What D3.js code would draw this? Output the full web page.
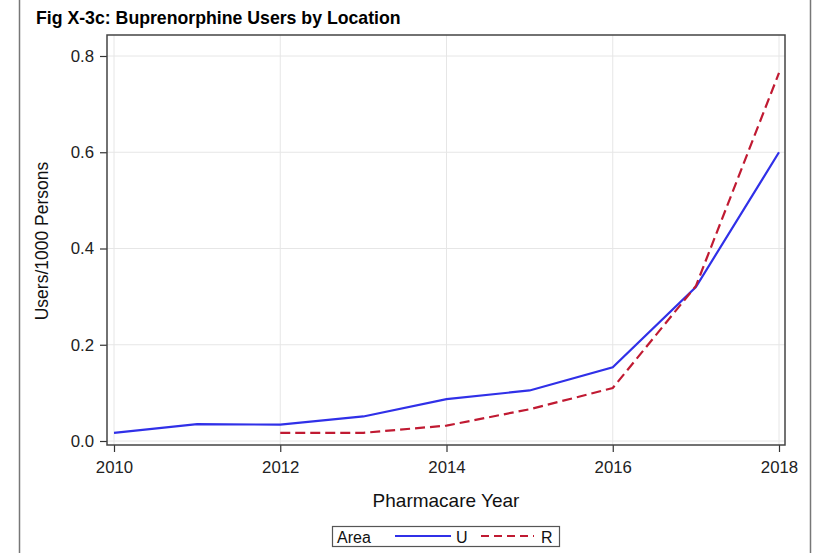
<!DOCTYPE html>
<html><head><meta charset="utf-8">
<script src="https://cdn.jsdelivr.net/npm/d3@7"></script>
<style>body{margin:0;background:#fff}svg{display:block;font-family:Arial,"Liberation Sans",sans-serif}</style>
</head><body>
<svg id="c" width="816" height="553"></svg>
<script>
const years = [2010,2011,2012,2013,2014,2015,2016,2017,2018];
const urbanValues = [0.017,0.035,0.034,0.051,0.087,0.105,0.153,0.320,0.600];
const ruralYears = [2012,2013,2014,2015,2016,2017,2018];
const ruralValues = [0.017,0.017,0.032,0.066,0.110,0.322,0.765];
const xTicks = [2010,2012,2014,2016,2018];
const yTicks = [0.0,0.2,0.4,0.6,0.8];
const seriesNames = ["U","R"];

const svg = d3.select("#c");
const frame = {l:107, t:35, r:785, b:445};
const x = d3.scaleLinear().domain([2010,2018]).range([114,779]);
const y = d3.scaleLinear().domain([0,0.8]).range([441,56]);

// outer page borders
svg.append("line").attr("x1",19.5).attr("x2",19.5).attr("y1",0).attr("y2",553).attr("stroke","#777").attr("stroke-width",1.5);
svg.append("line").attr("x1",810.5).attr("x2",810.5).attr("y1",0).attr("y2",553).attr("stroke","#777").attr("stroke-width",1.5);

svg.append("text").attr("x",36).attr("y",24).attr("font-size",17.7).attr("font-weight","bold").attr("fill","#000")
  .text("Fig X-3c: Buprenorphine Users by Location");

// grid
const g = svg.append("g");
g.selectAll(".gx").data(xTicks).enter().append("line")
  .attr("x1",d=>x(d)).attr("x2",d=>x(d)).attr("y1",frame.t).attr("y2",frame.b).attr("stroke","#e6e6e6");
g.selectAll(".gy").data(yTicks).enter().append("line")
  .attr("y1",d=>y(d)).attr("y2",d=>y(d)).attr("x1",frame.l).attr("x2",frame.r).attr("stroke","#e6e6e6");

// axes
const xAxis = d3.axisBottom(x).tickValues(xTicks).tickFormat(d3.format("d")).tickSizeOuter(0).tickSize(7).tickPadding(9);
const yAxis = d3.axisLeft(y).tickValues(yTicks).tickFormat(d3.format(".1f")).tickSizeOuter(0).tickSize(7).tickPadding(6);
const ax = svg.append("g").attr("transform",`translate(0,${frame.b})`).call(xAxis);
const ay = svg.append("g").attr("transform",`translate(${frame.l},0)`).call(yAxis);
[ax,ay].forEach(a=>{
  a.attr("font-size",16.8).attr("font-family","Arial,'Liberation Sans',sans-serif");
  a.select(".domain").remove();
  a.selectAll("line").attr("stroke","#333").attr("stroke-width",1.2);
  a.selectAll("text").attr("fill","#222");
});

// frame
svg.append("rect").attr("x",frame.l).attr("y",frame.t).attr("width",frame.r-frame.l).attr("height",frame.b-frame.t)
  .attr("fill","none").attr("stroke","#444").attr("stroke-width",1.5);

// lines
const lineU = d3.line().x((d,i)=>x(years[i])).y(d=>y(d));
const lineR = d3.line().x((d,i)=>x(ruralYears[i])).y(d=>y(d));
svg.append("path").attr("d",lineU(urbanValues)).attr("fill","none").attr("stroke","#3030e8").attr("stroke-width",2.2);
svg.append("path").attr("d",lineR(ruralValues)).attr("fill","none").attr("stroke","#c01a32").attr("stroke-width",2.2).attr("stroke-dasharray","10,5");

// labels
svg.append("text").attr("x",446).attr("y",507).attr("text-anchor","middle").attr("font-size",19).attr("fill","#111").text("Pharmacare Year");
svg.append("text").attr("transform","translate(48,241) rotate(-90)").attr("text-anchor","middle").attr("font-size",17.5).attr("fill","#111").text("Users/1000 Persons");

// legend
const lg = svg.append("g");
lg.append("rect").attr("x",332.5).attr("y",526.5).attr("width",227).attr("height",20).attr("fill","none").attr("stroke","#555").attr("stroke-width",1.2);
lg.append("text").attr("x",337).attr("y",542.5).attr("font-size",16).attr("fill","#111").text("Area");
lg.append("line").attr("x1",395).attr("x2",451).attr("y1",536).attr("y2",536).attr("stroke","#3030e8").attr("stroke-width",2);
lg.append("text").attr("x",456).attr("y",542.5).attr("font-size",16).attr("fill","#111").text(seriesNames[0]);
lg.append("line").attr("x1",481).attr("x2",534).attr("y1",536).attr("y2",536).attr("stroke","#c01a32").attr("stroke-width",2).attr("stroke-dasharray","8,5");
lg.append("text").attr("x",541).attr("y",542.5).attr("font-size",16).attr("fill","#111").text(seriesNames[1]);
</script>
</body></html>
